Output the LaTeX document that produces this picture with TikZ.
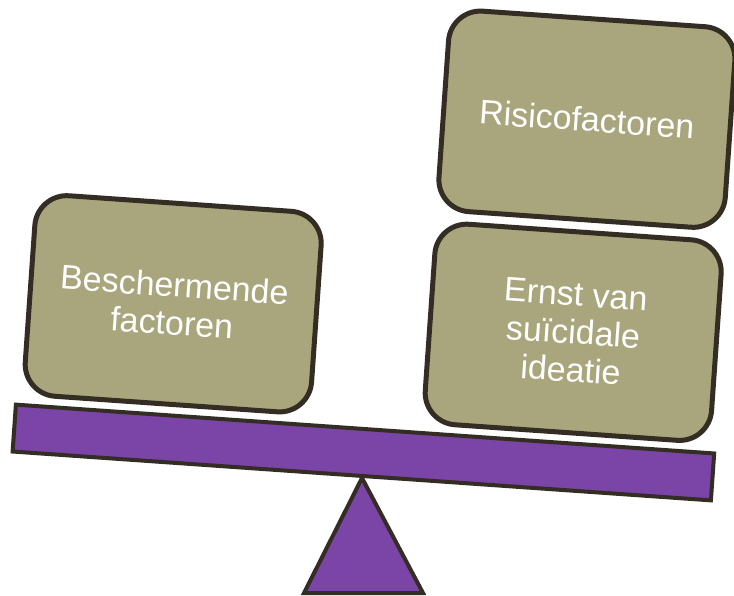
\documentclass[tikz,border=0pt]{standalone}
\usepackage{fontspec}
\setmainfont{Liberation Sans}
\definecolor{kaki}{HTML}{A9A67D}
\definecolor{rand}{HTML}{342D24}
\definecolor{paars}{HTML}{7B44A7}
\tikzset{
  blok/.style={rectangle, rounded corners=32pt, draw=rand, line width=5pt, fill=kaki,
    minimum width=287pt, minimum height=201pt, rotate=-4, align=center, text=white,
    font=\fontsize{34}{38}\selectfont},
}
\begin{document}
\begin{tikzpicture}[x=1pt,y=-1pt]
    \useasboundingbox (0,0) rectangle (734,596);
    % voet van de wip
    \coordinate (spil) at (362,478);
    \draw[rand, line width=4pt, fill=paars] (spil) -- (423,593) -- (304,593) -- cycle;
    \node (balk) at (363.4,452.5) [rectangle, draw=rand, line width=4pt, fill=paars,
        minimum width=700pt, minimum height=47pt, rotate=-4] {};
    % blokken
    \node (bescherm) at (173.2,303.8) [blok] {Beschermende\\factoren};
    \node (risico) at (586.9,119.2) [blok] {Risicofactoren};
    \node (ernst) at (573.2,332.3) [blok] {Ernst van\\suïcidale\\ideatie};
\end{tikzpicture}
\end{document}
